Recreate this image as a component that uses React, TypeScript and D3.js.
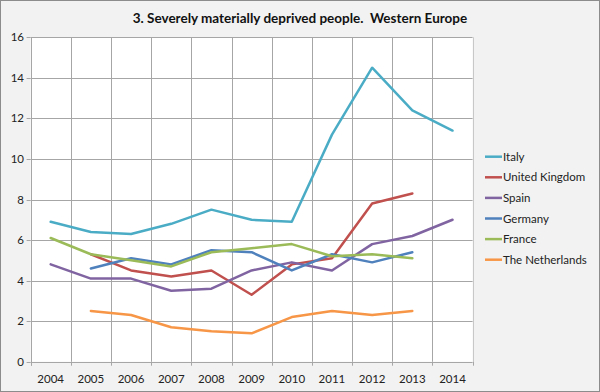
import { useRef, useEffect } from 'react';
import * as d3 from 'd3';

const years: string[] = ['2004', '2005', '2006', '2007', '2008', '2009', '2010', '2011', '2012', '2013', '2014'];
const yTicks: number[] = [0, 2, 4, 6, 8, 10, 12, 14, 16];

const italy: (number | null)[] = [6.9, 6.4, 6.3, 6.8, 7.5, 7.0, 6.9, 11.2, 14.5, 12.4, 11.4];
const unitedKingdom: (number | null)[] = [null, 5.3, 4.5, 4.2, 4.5, 3.3, 4.8, 5.1, 7.8, 8.3, null];
const spain: (number | null)[] = [4.8, 4.1, 4.1, 3.5, 3.6, 4.5, 4.9, 4.5, 5.8, 6.2, 7.0];
const germany: (number | null)[] = [null, 4.6, 5.1, 4.8, 5.5, 5.4, 4.5, 5.3, 4.9, 5.4, null];
const france: (number | null)[] = [6.1, 5.3, 5.0, 4.7, 5.4, 5.6, 5.8, 5.2, 5.3, 5.1, null];
const netherlands: (number | null)[] = [null, 2.5, 2.3, 1.7, 1.5, 1.4, 2.2, 2.5, 2.3, 2.5, null];

const seriesNames: string[] = ['Italy', 'United Kingdom', 'Spain', 'Germany', 'France', 'The Netherlands'];
const seriesColors: string[] = ['#4BACC6', '#C0504D', '#8064A2', '#4F81BD', '#9BBB59', '#F79646'];

export default function App() {
  const chartRef = useRef<SVGSVGElement | null>(null);

  useEffect(() => {
    if (!chartRef.current) return;
    const width = 600;
    const height = 392;
    const font = 'Lato, "Open Sans", sans-serif';

    const svg = d3.select(chartRef.current)
      .attr('width', width)
      .attr('height', height);
    svg.selectAll('*').remove();

    // background and frame
    svg.append('rect')
      .attr('x', 0.5).attr('y', 0.5)
      .attr('width', width - 1).attr('height', height - 1)
      .attr('fill', '#F2F2F2')
      .attr('stroke', '#8C8C8C');

    const left = 30.6, right = 472.6, top = 37.3, bottom = 361.7;

    const x = d3.scaleBand<string>().domain(years).range([left, right]);
    const y = d3.scaleLinear().domain([0, 16]).range([bottom, top]);

    // plot area
    svg.append('rect')
      .attr('x', left).attr('y', top)
      .attr('width', right - left).attr('height', bottom - top)
      .attr('fill', '#FFFFFF');

    // horizontal gridlines
    svg.append('g').selectAll('line')
      .data(yTicks.filter((t) => t > 0))
      .enter().append('line')
      .attr('x1', left).attr('x2', right)
      .attr('y1', (d) => Math.round(y(d)) + 0.5)
      .attr('y2', (d) => Math.round(y(d)) + 0.5)
      .attr('stroke', '#A6A6A6');

    // vertical gridlines at band boundaries
    const bounds = years.map((yr) => x(yr) || 0).concat([right]);
    svg.append('g').selectAll('line')
      .data(bounds.slice(1))
      .enter().append('line')
      .attr('x1', (d) => Math.round(d) + 0.5).attr('x2', (d) => Math.round(d) + 0.5)
      .attr('y1', top).attr('y2', bottom)
      .attr('stroke', (_d, i) => (i === bounds.length - 2 ? '#C8C8C8' : '#A6A6A6'));

    // y axis line and ticks
    svg.append('line')
      .attr('x1', Math.round(left) + 0.5).attr('x2', Math.round(left) + 0.5)
      .attr('y1', top).attr('y2', bottom + 4)
      .attr('stroke', '#A6A6A6');
    svg.append('g').selectAll('line')
      .data(yTicks)
      .enter().append('line')
      .attr('x1', left - 4).attr('x2', left)
      .attr('y1', (d) => Math.round(y(d)) + 0.5)
      .attr('y2', (d) => Math.round(y(d)) + 0.5)
      .attr('stroke', '#A6A6A6');
    svg.append('g').selectAll('text')
      .data(yTicks)
      .enter().append('text')
      .text((d) => String(d))
      .attr('x', 24)
      .attr('y', (d) => y(d) + 4)
      .attr('text-anchor', 'end')
      .attr('font-family', font)
      .attr('font-size', '11.5px')
      .attr('fill', '#222');

    // x axis line and ticks
    svg.append('line')
      .attr('x1', left).attr('x2', right)
      .attr('y1', Math.round(bottom) + 0.5).attr('y2', Math.round(bottom) + 0.5)
      .attr('stroke', '#A6A6A6');
    svg.append('g').selectAll('line')
      .data(bounds)
      .enter().append('line')
      .attr('x1', (d) => Math.round(d) + 0.5).attr('x2', (d) => Math.round(d) + 0.5)
      .attr('y1', bottom).attr('y2', bottom + 4)
      .attr('stroke', '#A6A6A6');
    svg.append('g').selectAll('text')
      .data(years)
      .enter().append('text')
      .text((d) => d)
      .attr('x', (d) => (x(d) || 0) + x.bandwidth() / 2)
      .attr('y', 383)
      .attr('text-anchor', 'middle')
      .attr('font-family', font)
      .attr('font-size', '11.5px')
      .attr('fill', '#222');

    // series lines
    const allSeries = [italy, unitedKingdom, spain, germany, france, netherlands];
    const line = d3.line<number | null>()
      .defined((d) => d !== null)
      .x((_d, i) => (x(years[i]) || 0) + x.bandwidth() / 2)
      .y((d) => y(d as number));

    svg.append('g').selectAll('path')
      .data(allSeries)
      .enter().append('path')
      .attr('d', (d) => line(d) || '')
      .attr('fill', 'none')
      .attr('stroke', (_d, i) => seriesColors[i])
      .attr('stroke-width', 2.5)
      .attr('stroke-linejoin', 'round')
      .attr('stroke-linecap', 'round');

    // legend
    const legend = svg.append('g').selectAll('g')
      .data(seriesNames)
      .enter().append('g')
      .attr('transform', (_d, i) => `translate(485, ${156.7 + i * 20.6})`);
    legend.append('line')
      .attr('x1', 0).attr('x2', 17)
      .attr('y1', 0).attr('y2', 0)
      .attr('stroke', (_d, i) => seriesColors[i])
      .attr('stroke-width', 2.5);
    legend.append('text')
      .text((d) => d)
      .attr('x', 18)
      .attr('y', 4)
      .attr('font-family', font)
      .attr('font-size', '11.5px')
      .attr('fill', '#222');

    // title
    svg.append('text')
      .text('3. Severely materially deprived people.  Western Europe')
      .attr('x', 300)
      .attr('y', 23)
      .attr('text-anchor', 'middle')
      .attr('font-family', font)
      .attr('font-weight', 'bold')
      .attr('font-size', '13.5px')
      .attr('fill', '#111')
      .style('white-space', 'pre');
  }, []);

  return (
    <div style={{ position: 'absolute', left: 0, top: 0 }}>
      <svg ref={chartRef} style={{ display: 'block' }}></svg>
    </div>
  );
}
